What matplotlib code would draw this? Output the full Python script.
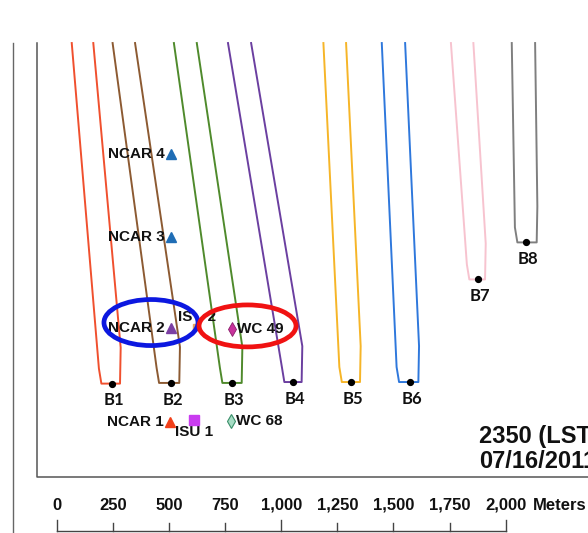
import matplotlib
matplotlib.use("Agg")
import matplotlib.pyplot as plt
from matplotlib.patches import Ellipse, Rectangle

# plume outlines, map units in meters (x from scale-bar origin, y from frame bottom)
plume_names = ["B1", "B2", "B3", "B4", "B5", "B6", "B7", "B8"]
source_x = [246, 507, 781, 1053, 1311, 1574, 1878, 2090]
source_y = [416, 419, 419, 423, 423, 423, 880, 1045]
base_left_x = [199, 456, 738, 1014, 1270, 1525, 1838, 2052]
base_right_x = [282, 546, 824, 1091, 1351, 1611, 1908, 2138]
top_left_x = [67, 249, 522, 763, 1188, 1448, 1756, 2027]
top_right_x = [163, 349, 624, 866, 1289, 1552, 1856, 2131]
plume_colors = ["#f0502e", "#8c5a32", "#4f8a2c", "#6b3fa0",
                "#f6b528", "#2f78dc", "#f7c3cf", "#7f7f7f"]

# sampling stations
station_names = ["NCAR 4", "NCAR 3", "NCAR 2", "NCAR 1", "ISU 2", "ISU 1", "WC 49", "WC 68"]
station_x = [509, 509, 508, 505, 620, 613, 782, 775]
station_y = [1439, 1070, 662, 246, 668, 254, 658, 251]

scale_ticks = [0, 250, 500, 750, 1000, 1250, 1500, 1750, 2000]

PX = 0.2245            # pixels per meter at 100 dpi
TOP = 1933             # top of the map frame
FRAME_LEFT = -88
OUTER_LEFT = -195

fig = plt.figure(figsize=(5.88, 5.33), dpi=100)
ax = fig.add_axes([0, 0, 1, 1])
ax.set_xlim(-56.7 / PX, (588 - 56.7) / PX)
ax.set_ylim((477 - 533) / PX, 477 / PX)
ax.set_axis_off()

bold = dict(family=["Liberation Sans", "DejaVu Sans"], weight="bold")
ink = "#111111"

# frame
ax.plot([FRAME_LEFT, FRAME_LEFT, 3000], [TOP, 0, 0], color="#555555", lw=1.1)
ax.plot([OUTER_LEFT, OUTER_LEFT], [TOP, -300], color="#666666", lw=1.0)

# plumes: two edges converging on a flat base through the source
for i, name in enumerate(plume_names):
    sy = source_y[i]
    xs = [top_left_x[i], base_left_x[i] - 11, base_left_x[i],
          base_right_x[i], base_right_x[i] + 3, top_right_x[i]]
    ys = [TOP, sy + 67, sy, sy, sy + 160, TOP]
    ax.plot(xs, ys, color=plume_colors[i], lw=1.4, solid_joinstyle="round")
    ax.plot(source_x[i], sy, "o", color="black", ms=4.2, zorder=5)
    ax.annotate(name, (source_x[i], sy), xytext=(1.5, -12), textcoords="offset points",
                ha="center", va="center", fontsize=12,
                family=["Lato", "DejaVu Sans"], weight="bold", color=ink)

# station markers
markers = {
    "NCAR 4": dict(marker="^", color="#1f6db5", ms=6.5),
    "NCAR 3": dict(marker="^", color="#1f6db5", ms=6.5),
    "NCAR 2": dict(marker="^", color="#7b3fa3", ms=6.5),
    "NCAR 1": dict(marker="^", color="#f2401a", ms=6.5),
    "ISU 2": dict(marker="s", color="#e8a060", ms=4),
    "ISU 1": dict(marker="s", color="#c93cf0", ms=7.5),
    "WC 49": dict(marker="d", color="#c8329c", ms=7, mec="#8a1f6a", mew=0.6),
    "WC 68": dict(marker="d", color="#a6dcc4", ms=7, mec="#3a8f6a", mew=0.8),
}
for name, x, y in zip(station_names, station_x, station_y):
    st = markers[name]
    ax.plot(x, y, linestyle="none", zorder=4, **st)
    if name.startswith("NCAR"):
        ax.annotate(name, (x, y), xytext=(-4.5, 0), textcoords="offset points",
                    ha="right", va="center", fontsize=11, color=ink, **bold)
    elif name.startswith("WC"):
        ax.annotate(name, (x, y), xytext=(3.5, 0), textcoords="offset points",
                    ha="left", va="center", fontsize=11, color=ink, **bold)
    elif name == "ISU 1":
        ax.annotate(name, (x, y), xytext=(-0.5, -9), textcoords="offset points",
                    ha="center", va="center", fontsize=11, color=ink, **bold)
    else:
        ax.annotate(name, (x, y), xytext=(1, 7.5), textcoords="offset points",
                    ha="center", va="center", fontsize=11, color=ink, **bold)

# the ISU 2 label is partly hidden under the highlight rings
ax.add_patch(Rectangle((603, 685), 62, 55, facecolor="white", edgecolor="none", zorder=6))

# highlight rings
ax.add_patch(Ellipse((420, 688), 419, 205, fill=False, edgecolor="#0c18e0", lw=3.4, zorder=7))
ax.add_patch(Ellipse((850, 673), 432, 187, fill=False, edgecolor="#f01212", lw=3.4, zorder=7))

# time stamp
ax.text(1880, 180, "2350 (LST)", ha="left", va="center", fontsize=17, color=ink, **bold)
ax.text(1880, 68, "07/16/2011", ha="left", va="center", fontsize=17, color=ink, **bold)

# scale bar
bar_y = (477 - 531) / PX
ax.plot([scale_ticks[0], scale_ticks[-1]], [bar_y, bar_y], color="#444444", lw=1.0)
for t in scale_ticks:
    tall = t % 1000 == 0
    top = (477 - (519.5 if tall else 523)) / PX
    ax.plot([t, t], [bar_y, top], color="#444444", lw=1.0)
    ax.text(t, (477 - 505) / PX, f"{t:,}", ha="center", va="center",
            fontsize=12, color=ink, **bold)
ax.annotate("Meters", (scale_ticks[-1], (477 - 505) / PX), xytext=(19.5, 0),
            textcoords="offset points", ha="left", va="center",
            fontsize=12, color=ink, **bold)

fig.savefig("out.png", dpi=100, facecolor="white")
